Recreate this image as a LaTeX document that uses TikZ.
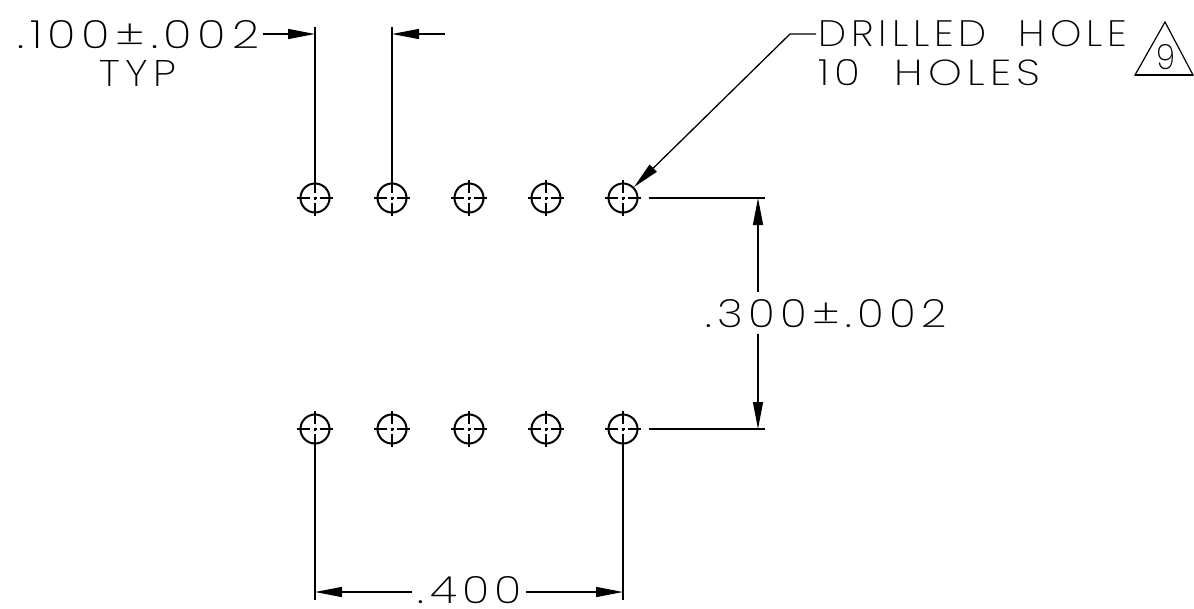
\documentclass[tikz,border=0pt]{standalone}
\usepackage{fontspec}
\usepackage{graphicx}
\usetikzlibrary{arrows.meta,calc}
\newfontfamily\cadfont[UprightFont=* ExtraLight,LetterSpace=12]{Poppins}
\newcommand{\cadtext}[3]{\resizebox{#1pt}{#2pt}{\cadfont #3}}
\tikzset{
  dimline/.style={line width=1.3pt,black},
  tipend/.style={dimline,-{Triangle[length=27pt,width=10pt]}},
  hole/.style={circle,draw,line width=2pt,minimum size=29pt,inner sep=0pt},
  crossline/.style={line width=1.4pt},
  cadlabel/.style={inner sep=0pt,outer sep=0pt,text=black},
}
\begin{document}
\begin{tikzpicture}[x=1pt,y=-1pt]
\useasboundingbox (0,0) rectangle (1194,608);
% holes
\foreach \n/\x in {1/315,2/392,3/469,4/546,5/623}{
  \foreach \r/\y in {t/198,b/429}{
    \node[hole] (\r\n) at (\x,\y) {};
    \draw[crossline] (\x-18,\y) -- (\x-5,\y) (\x-1.5,\y) -- (\x+1.5,\y) (\x+5,\y) -- (\x+18,\y);
    \draw[crossline] (\x,\y-18) -- (\x,\y-5) (\x,\y-1.5) -- (\x,\y+1.5) (\x,\y+5) -- (\x,\y+18);
  }
}
% labels
\node[cadlabel] (d100) at (138.5,34.5) {\cadtext{241}{28}{.\kern0.12em1\kern0.1em00±.002}};
\node[cadlabel] (typ) at (138,73) {\cadtext{76}{26}{TYP}};
\node[cadlabel] (drilled) at (973,34) {\cadtext{308}{26}{DRILLED\ \ HOLE}};
\node[cadlabel] (tenholes) at (929.5,73) {\cadtext{221}{26}{1\kern0.1em0\ \ HOLES}};
\node[cadlabel] (d300) at (826.5,314) {\cadtext{241}{28}{.300±.002}};
\node[cadlabel] (d400) at (470,590.5) {\cadtext{104}{27}{.400}};
\node[cadlabel] (nine) at (1165.5,57.5) {\cadtext{19}{25}{9}};
% triangle
\coordinate (triA) at (1165,22);
\coordinate (triB) at (1193,75);
\coordinate (triC) at (1135,75);
\draw[line width=1.2pt] (triA) -- (triB) -- (triC) -- cycle;
\draw[line width=2pt] (triC) -- (triB);
% top dimension
\coordinate (e1) at (315,27);
\coordinate (e2) at (392,27);
\coordinate (a1) at (315,34);
\coordinate (a2) at (392,34);
\coordinate (a2s) at (445,34);
\draw[dimline] (t1.north) -- (e1);
\draw[dimline] (t2.north) -- (e2);
\draw[tipend] (263,34) -- (a1);
\draw[tipend] (a2s) -- (a2);
% leader
\coordinate (lk) at (790,34);
\draw[tipend] (816,34) -- (lk) -- (t5.45);
% right dimension
\coordinate (r1) at (765,198);
\coordinate (r2) at (765,429);
\coordinate (v1) at (758,198);
\coordinate (v2) at (758,429);
\draw[dimline] ($(t5.east)+(10,0)$) -- (r1);
\draw[dimline] ($(b5.east)+(10,0)$) -- (r2);
\draw[tipend] (758,292) -- (v1);
\draw[tipend] (758,334) -- (v2);
% bottom dimension
\coordinate (q1) at (315,600);
\coordinate (q2) at (623,600);
\coordinate (m1) at (315,592);
\coordinate (m2) at (623,592);
\draw[dimline] (b1.south) -- (q1);
\draw[dimline] (b5.south) -- (q2);
\draw[tipend] (412,592) -- (m1);
\draw[tipend] (526,592) -- (m2);
\end{tikzpicture}
\end{document}
